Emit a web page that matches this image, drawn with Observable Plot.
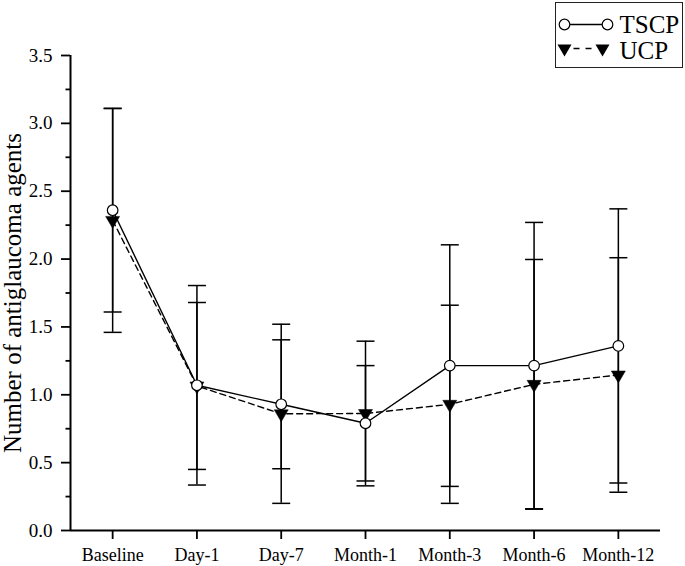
<!DOCTYPE html>
<html><head><meta charset="utf-8">
<script src="https://cdn.jsdelivr.net/npm/d3@7"></script>
<script src="https://cdn.jsdelivr.net/npm/@observablehq/plot@0.6"></script>
<style>
body{margin:0;background:#fff;}
#wrap{position:relative;width:685px;height:566px;font-family:"Liberation Serif","Times New Roman",serif;}
#legend{position:absolute;left:555px;top:2px;width:128px;height:66px;box-sizing:border-box;border:1.5px solid #222;background:#fff;}
#legend svg{position:absolute;left:0;top:0;overflow:visible;}
</style></head><body><div id="wrap"></div>
<script>
const categories = ["Baseline","Day-1","Day-7","Month-1","Month-3","Month-6","Month-12"];
const seriesNames = ["TSCP","UCP"];
const tscpMean = [2.36, 1.07, 0.93, 0.79, 1.215, 1.215, 1.36];
const tscpSD   = [0.75, 0.735, 0.475, 0.425, 0.89, 1.055, 1.01];
const ucpMean  = [2.285, 1.065, 0.86, 0.862, 0.93, 1.077, 1.146];
const ucpSD    = [0.825, 0.615, 0.66, 0.533, 0.73, 0.92, 0.864];
const yTicks = [0, 0.5, 1.0, 1.5, 2.0, 2.5, 3.0, 3.5];
const yMinorTicks = [0.25, 0.75, 1.25, 1.75, 2.25, 2.75, 3.25];
const yLabel = "Number of antiglaucoma agents";

const tscp = categories.map((c, i) => ({series: seriesNames[0], i, cat: c, mean: tscpMean[i], sd: tscpSD[i]}));
const ucp = categories.map((c, i) => ({series: seriesNames[1], i, cat: c, mean: ucpMean[i], sd: ucpSD[i]}));
const rows = tscp.concat(ucp);

const triangleDown = {
  draw(ctx, size) {
    const r = Math.sqrt(size / Math.PI);
    ctx.moveTo(-r, -r * 0.57);
    ctx.lineTo(r, -r * 0.57);
    ctx.lineTo(0, r * 1.14);
    ctx.closePath();
  }
};
const capSymbol = {
  draw(ctx, size) {
    const r = Math.sqrt(size / Math.PI);
    ctx.moveTo(-r, 0);
    ctx.lineTo(r, 0);
  }
};
const xDomain = [-0.5, categories.length - 0.5];

const plot = Plot.plot({
  width: 685, height: 566,
  marginLeft: 70, marginRight: 25, marginTop: 55, marginBottom: 36,
  style: {fontFamily: "Liberation Serif", background: "transparent", color: "#000", overflow: "visible"},
  x: {type: "linear", domain: xDomain},
  y: {domain: [0, 3.5]},
  marks: [
    Plot.axisX({ticks: d3.range(categories.length), tickFormat: i => categories[i], tickSize: 9, tickPadding: 9, fontSize: 18, fontFamily: "Liberation Serif", strokeWidth: 1.8, label: null}),
    Plot.axisY({ticks: yTicks, tickFormat: d3.format(".1f"), tickSize: 9, tickPadding: 9, fontSize: 19, fontFamily: "Liberation Serif", strokeWidth: 1.8, label: null}),
    Plot.axisY({ticks: yMinorTicks, tickFormat: () => "", tickSize: 4.5, strokeWidth: 1.8, label: null}),
    Plot.ruleY([0], {stroke: "#000", strokeWidth: 2}),
    Plot.ruleX([xDomain[0]], {stroke: "#000", strokeWidth: 2}),
    Plot.text([yLabel], {text: d => d, frameAnchor: "left", textAnchor: "middle", rotate: -90, dx: -58, fontSize: 25, fill: "#000"}),
    Plot.ruleX(rows, {x: "i", y1: d => d.mean - d.sd, y2: d => d.mean + d.sd, stroke: "#000", strokeWidth: 1.5}),
    Plot.dot(rows, {x: "i", y: d => d.mean + d.sd, r: 9, symbol: capSymbol, fill: "none", stroke: "#000", strokeWidth: 1.5}),
    Plot.dot(rows, {x: "i", y: d => d.mean - d.sd, r: 9, symbol: capSymbol, fill: "none", stroke: "#000", strokeWidth: 1.5}),
    Plot.line(ucp, {x: "i", y: "mean", stroke: "#000", strokeWidth: 1.4, strokeDasharray: "6,4"}),
    Plot.line(tscp, {x: "i", y: "mean", stroke: "#000", strokeWidth: 1.4}),
    Plot.dot(ucp, {x: "i", y: "mean", r: 7, symbol: triangleDown, fill: "#000", stroke: "#000", strokeWidth: 0.5}),
    Plot.dot(tscp, {x: "i", y: "mean", r: 5.3, fill: "#fff", stroke: "#000", strokeWidth: 1.2})
  ]
});

const wrap = document.getElementById("wrap");
wrap.appendChild(plot);

// legend
const ox = 556.5, oy = 3.5;
const legend = document.createElement("div");
legend.id = "legend";
legend.innerHTML = `<svg width="125" height="63" font-family="Liberation Serif">
  <line x1="${570-ox}" x2="${603-ox}" y1="${25-oy}" y2="${25-oy}" stroke="#000" stroke-width="1.4"/>
  <circle cx="${565-ox}" cy="${25-oy}" r="5.3" fill="#fff" stroke="#000" stroke-width="1.2"/>
  <circle cx="${608-ox}" cy="${25-oy}" r="5.3" fill="#fff" stroke="#000" stroke-width="1.2"/>
  <text x="${620-ox}" y="${33.5-oy}" font-size="25" fill="#000">${seriesNames[0]}</text>
  <line x1="${574-ox}" x2="${592-ox}" y1="${49-oy}" y2="${49-oy}" stroke="#000" stroke-width="1.4" stroke-dasharray="6,6"/>
  <path d="M${565-7-ox},${45-oy}L${565+7-ox},${45-oy}L${565-ox},${57-oy}Z" fill="#000"/>
  <path d="M${603-7-ox},${45-oy}L${603+7-ox},${45-oy}L${603-ox},${57-oy}Z" fill="#000"/>
  <text x="${620-ox}" y="${59-oy}" font-size="25" fill="#000">${seriesNames[1]}</text>
</svg>`;
wrap.appendChild(legend);
</script>
</body></html>
